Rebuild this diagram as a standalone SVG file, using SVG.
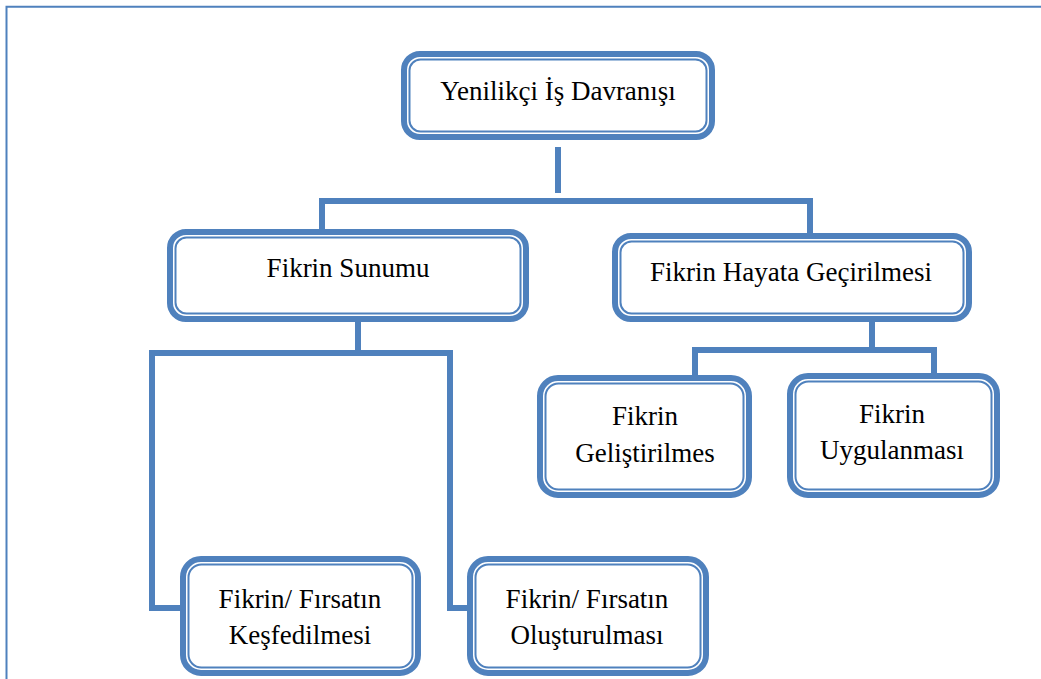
<svg xmlns="http://www.w3.org/2000/svg" width="1041" height="679" viewBox="0 0 1041 679">
<style>
.outer{fill:#fff;stroke:#4F81BD;stroke-width:6}
.inner{fill:none;stroke:#4F81BD;stroke-width:2}
.conn{fill:none;stroke:#4F81BD;stroke-width:6;stroke-linejoin:miter}
.page{fill:none;stroke:#4F81BD;stroke-width:2}
text{font-family:"Liberation Serif","Times New Roman",serif;font-size:27px;fill:#000;text-anchor:middle}
</style>
<rect width="1041" height="679" fill="#fff"/>
<path class="page" d="M1041,6.7 H6.5 V679"/>
<g id="connectors">
<path class="conn" d="M558,147 V193"/>
<path class="conn" d="M322,230 V201 H810 V236"/>
<path class="conn" d="M358,322 V353"/>
<path class="conn" d="M183,608 H152 V353 H450 V608 H470"/>
<path class="conn" d="M872,322 V352"/>
<path class="conn" d="M695,376 V350 H934 V374"/>
</g>
<g id="node-yenilikci">
<rect class="outer" x="404" y="54" width="308" height="83" rx="16"/>
<rect class="inner" x="409.5" y="59.5" width="297" height="72" rx="11"/>
<text x="558" y="100">Yenilikçi İş Davranışı</text>
</g>
<g id="node-sunumu">
<rect class="outer" x="170" y="232" width="356" height="87" rx="16"/>
<rect class="inner" x="175.5" y="237.5" width="345" height="76" rx="11"/>
<text x="348" y="277">Fikrin Sunumu</text>
</g>
<g id="node-hayata">
<rect class="outer" x="615" y="236" width="354" height="83" rx="16"/>
<rect class="inner" x="620.5" y="241.5" width="343" height="72" rx="11"/>
<text x="791" y="281">Fikrin Hayata Geçirilmesi</text>
</g>
<g id="node-gelistirilmes">
<rect class="outer" x="540" y="378" width="209" height="117" rx="18"/>
<rect class="inner" x="545.5" y="383.5" width="198" height="106" rx="13"/>
<text x="645" y="425">Fikrin</text>
<text x="645" y="462">Geliştirilmes</text>
</g>
<g id="node-uygulanmasi">
<rect class="outer" x="790" y="376" width="207" height="119" rx="18"/>
<rect class="inner" x="795.5" y="381.5" width="196" height="108" rx="13"/>
<text x="892" y="423">Fikrin</text>
<text x="892" y="459">Uygulanması</text>
</g>
<g id="node-kesfedilmesi">
<rect class="outer" x="183" y="559" width="235" height="114" rx="18"/>
<rect class="inner" x="188.5" y="564.5" width="224" height="103" rx="13"/>
<text x="300" y="608">Fikrin/ Fırsatın</text>
<text x="300" y="644">Keşfedilmesi</text>
</g>
<g id="node-olusturulmasi">
<rect class="outer" x="470" y="559" width="236" height="114" rx="18"/>
<rect class="inner" x="475.5" y="564.5" width="225" height="103" rx="13"/>
<text x="587" y="608">Fikrin/ Fırsatın</text>
<text x="587" y="644">Oluşturulması</text>
</g>
</svg>
